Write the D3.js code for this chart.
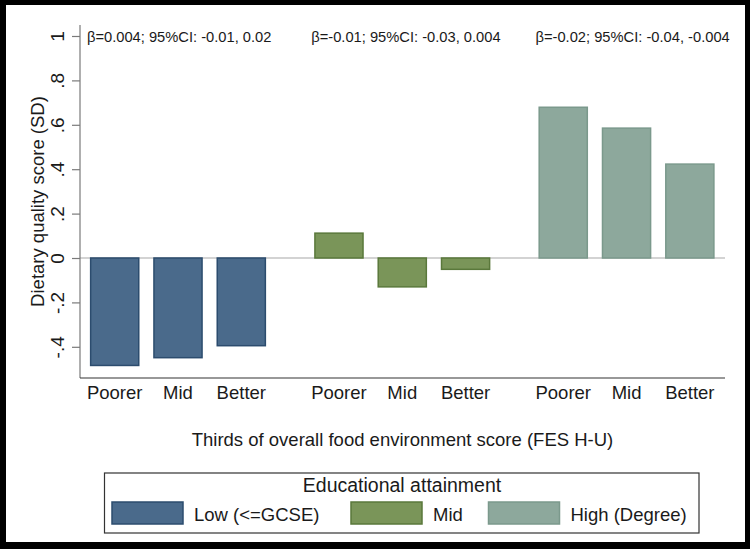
<!DOCTYPE html>
<html>
<head>
<meta charset="utf-8">
<script src="https://cdn.jsdelivr.net/npm/d3@7/dist/d3.min.js"></script>
<style>
  html, body { margin: 0; padding: 0; background: #000; }
  svg { display: block; }
  text { font-family: "Liberation Sans", Arial, sans-serif; fill: #1a1a1a; }
</style>
</head>
<body>
<svg id="chart" width="750" height="549"></svg>
<script>
// ---- data ----
const groups = ["Low (<=GCSE)", "Mid", "High (Degree)"];
const thirds = ["Poorer", "Mid", "Better"];
const lowValues = [-0.484, -0.449, -0.395];
const midValues = [0.112, -0.130, -0.051];
const highValues = [0.679, 0.585, 0.423];
const annotations = [
  "β=0.004; 95%CI: -0.01, 0.02",
  "β=-0.01; 95%CI: -0.03, 0.004",
  "β=-0.02; 95%CI: -0.04, -0.004"
];
const yTicks = [-0.4, -0.2, 0, 0.2, 0.4, 0.6, 0.8, 1];
const yTickLabels = ["-.4", "-.2", "0", ".2", ".4", ".6", ".8", "1"];
const legendTitle = "Educational attainment";
const yTitle = "Dietary quality score (SD)";
const xTitle = "Thirds of overall food environment score (FES H-U)";

const fills = ["#4a6a8b", "#7a9559", "#8da89c"];
const strokes = ["#2c4c6e", "#5a783b", "#7b998c"];

const seriesValues = [lowValues, midValues, highValues];
const data = [];
seriesValues.forEach((vals, g) => vals.forEach((v, i) => data.push({g, i, v})));

// ---- layout ----
const svg = d3.select("#chart");
svg.append("rect").attr("x", 6).attr("y", 5).attr("width", 739).attr("height", 537).attr("fill", "#fff");

const plot = {left: 80, right: 725, top: 25, bottom: 378};
const y = d3.scaleLinear().domain([-0.5405, 1.0495]).range([plot.bottom, plot.top]);

// slot positions: 3 bars per group + extra gap between groups
const groupGap = 0.543;
const slot = d => d.g * (3 + groupGap) + d.i;
const x = d3.scaleLinear().domain([0, 1]).range([114.7, 178.0]);
const step = x(1) - x(0);
const barW = step * 0.76;

// zero line
svg.append("line")
  .attr("x1", plot.left).attr("x2", plot.right)
  .attr("y1", y(0)).attr("y2", y(0))
  .attr("stroke", "#c4c4c4").attr("stroke-width", 1.5);

// bars
svg.append("g").selectAll("rect").data(data).join("rect")
  .attr("x", d => x(slot(d)) - barW / 2)
  .attr("width", barW)
  .attr("y", d => y(Math.max(0, d.v)))
  .attr("height", d => Math.abs(y(d.v) - y(0)))
  .attr("fill", d => fills[d.g])
  .attr("stroke", d => strokes[d.g])
  .attr("stroke-width", 1.5);

// y axis
const yAxis = d3.axisLeft(y).tickValues(yTicks).tickSize(8).tickPadding(6)
  .tickFormat((d, k) => yTickLabels[k]);
const gy = svg.append("g").attr("transform", `translate(${plot.left},0)`).call(yAxis);
gy.select(".domain").attr("d", `M0,${plot.top}V${plot.bottom}`).attr("stroke", "#7a7a7a").attr("stroke-width", 1.2);
gy.selectAll(".tick line").attr("stroke", "#7a7a7a").attr("stroke-width", 1.2);
gy.selectAll(".tick text")
  .attr("x", null).attr("dy", null)
  .attr("text-anchor", "middle")
  .attr("transform", "translate(-16,0) rotate(-90)")
  .style("font-size", "19px")
  .style("font-family", "'Liberation Sans', Arial, sans-serif")
  .attr("fill", "#1a1a1a");

// y title
svg.append("text")
  .attr("transform", `translate(43.5,${(plot.top + plot.bottom) / 2}) rotate(-90)`)
  .attr("text-anchor", "middle")
  .style("font-size", "18.5px")
  .text(yTitle);

// x axis line
svg.append("line")
  .attr("x1", plot.left).attr("x2", plot.right)
  .attr("y1", plot.bottom).attr("y2", plot.bottom)
  .attr("stroke", "#333").attr("stroke-width", 1.2);

// x tick labels
svg.append("g").selectAll("text").data(data).join("text")
  .attr("x", d => x(slot(d)))
  .attr("y", 399)
  .attr("text-anchor", "middle")
  .style("font-size", "18.5px")
  .text(d => thirds[d.i]);

// annotations
svg.append("g").selectAll("text").data(annotations).join("text")
  .attr("x", (d, g) => x(g * (3 + groupGap)) - 27.7)
  .attr("y", 42)
  .style("font-size", "14.7px")
  .text(d => d);

// x title
svg.append("text")
  .attr("x", (plot.left + plot.right) / 2)
  .attr("y", 446)
  .attr("text-anchor", "middle")
  .style("font-size", "18.5px")
  .text(xTitle);

// legend
const leg = svg.append("g");
leg.append("rect").attr("x", 104.5).attr("y", 473).attr("width", 594.5).attr("height", 60)
  .attr("fill", "#fff").attr("stroke", "#333").attr("stroke-width", 1.2);
leg.append("text").attr("x", 402).attr("y", 492).attr("text-anchor", "middle")
  .style("font-size", "19.5px").text(legendTitle);
const keyX = [112, 351, 488.5];
groups.forEach((name, g) => {
  leg.append("rect").attr("x", keyX[g]).attr("y", 502).attr("width", 71).attr("height", 22)
    .attr("fill", fills[g]).attr("stroke", strokes[g]).attr("stroke-width", 1.5);
  leg.append("text").attr("x", keyX[g] + 82).attr("y", 521)
    .style("font-size", "18.5px").text(name);
});
</script>
</body>
</html>
